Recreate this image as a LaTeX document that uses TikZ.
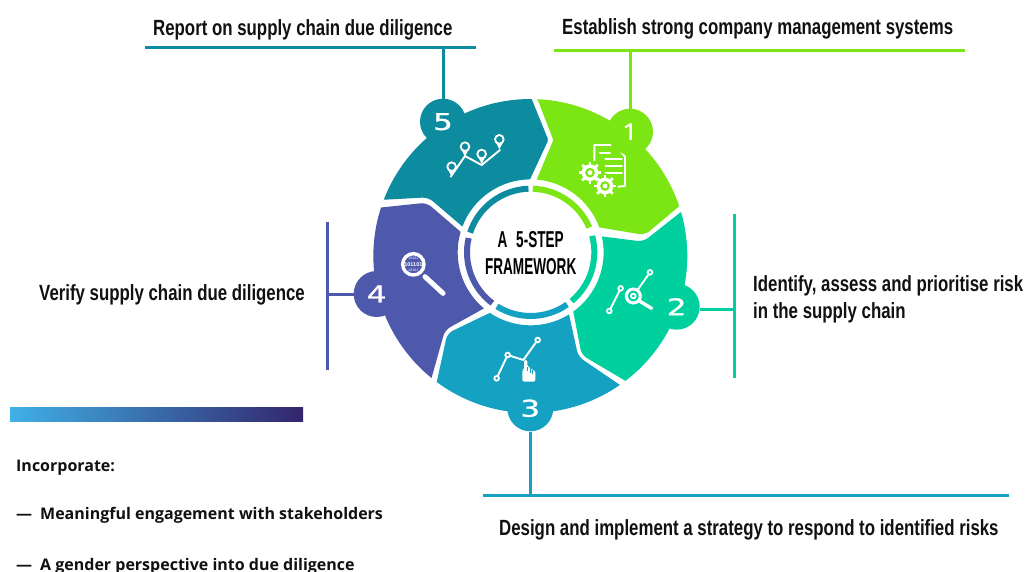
\documentclass[tikz,border=0pt]{standalone}
\usepackage{fontspec}
\setmainfont{Liberation Sans}
\newfontfamily\lblfont[FakeStretch=0.765]{Liberation Sans}
\newfontfamily\hubfont[FakeStretch=0.59]{Liberation Sans}
\newfontfamily\numfont[FakeStretch=1.35,FakeBold=1.2]{DejaVu Sans}
\newfontfamily\onefont[FakeStretch=1.2,FakeBold=1.2]{Open Sans}
\newfontfamily\notefont{Open Sans}
\definecolor{cA}{HTML}{7CE514}
\definecolor{cB}{HTML}{00CF9E}
\definecolor{cC}{HTML}{15A2C2}
\definecolor{cD}{HTML}{4F59AB}
\definecolor{cE}{HTML}{0E8C9F}
\definecolor{cF}{HTML}{3FB0E6}
\definecolor{cG}{HTML}{33256D}
\definecolor{ink}{HTML}{111111}
\usetikzlibrary{calc}
\tikzset{
  bump/.style={circle,fill=#1,inner sep=0pt,minimum size=46pt,text=white,font=\numfont\fontsize{23}{23}\selectfont},
  lead/.style={draw=#1,line width=3pt},
  lbl/.style={text=ink,inner sep=0pt,anchor=base west,font=\lblfont\bfseries\fontsize{22}{27}\selectfont},
  note/.style={text=ink,inner sep=0pt,anchor=base west,font=\notefont\bfseries\fontsize{16}{18}\selectfont},
  band/.style={line width=6pt,draw=#1},
  iconl/.style={draw=white,line width=1.9pt,line cap=round,line join=round},
  ring/.style={draw=white,line width=1.8pt,fill=#1},
}
\newcommand{\gearicon}[3]{%
  \foreach \a in {0,45,...,315}{\draw[white,line width=2.8pt] ([shift={(#1,#2)}]\a:#3*0.6) -- ([shift={(#1,#2)}]\a:#3);}
  \fill[white] (#1,#2) circle[radius=#3*0.76];
  \fill[cA] (#1,#2) circle[radius=#3*0.44];
  \fill[white] (#1,#2) circle[radius=#3*0.22];
}
\begin{document}
\begin{tikzpicture}[x=1pt,y=-1pt]
\useasboundingbox (0,0) rectangle (1029,571);
\clip (0,0) rectangle (1029,571);
\fill[white] (0,0) rectangle (1029,571);

% leader coordinates
\coordinate (e1a) at (554,50); \coordinate (e1b) at (965,50); \coordinate (j1) at (630,50);
\coordinate (e5a) at (145,47); \coordinate (e5b) at (476,47); \coordinate (j5) at (443,47);
\coordinate (e4a) at (327,222); \coordinate (e4b) at (327,370); \coordinate (j4) at (327,294);
\coordinate (e2a) at (734,214); \coordinate (e2b) at (734,378); \coordinate (j2) at (734,309);
\coordinate (e3a) at (483,495); \coordinate (e3b) at (1009,495); \coordinate (j3) at (530.3,495);

% wheel
\begin{scope}[shift={(530.33,256)},x=0.3333pt,y=0.3333pt]
\fill[cA] (87.4:471) arc[start angle=87.4,end angle=18.5,radius=471]
  [rounded corners=6pt] -- (344,63) [sharp corners]
  -- ([shift={(1,11)}]20:219) arc[start angle=20,end angle=85.3,radius=219]
  [rounded corners=1.5pt] -- (69,348) [sharp corners] -- cycle;
\fill[cB] (16.3:471) arc[start angle=16.3,end angle=-52.7,radius=471]
  [rounded corners=6pt] -- (154,-297) [sharp corners]
  -- ([shift={(1,11)}]-54.3:219) arc[start angle=-54.3,end angle=12.6,radius=219]
  [rounded corners=6pt] -- (339,43) [sharp corners] -- cycle;
\fill[cC] (-55.2:471) arc[start angle=-55.2,end angle=-126.6,radius=471]
  [rounded corners=6pt] -- (-249,-232) [sharp corners]
  -- ([shift={(1,11)}]-124:219) arc[start angle=-124,end angle=-58.3,radius=219]
  [rounded corners=6pt] -- (144,-302) [sharp corners] -- cycle;
\fill[cD] (-129:471) arc[start angle=-129,end angle=-198,radius=471]
  [rounded corners=6pt] -- (-311,160) [sharp corners]
  -- ([shift={(1,11)}]163.7:219) arc[start angle=163.7,end angle=230.2,radius=219]
  [rounded corners=6pt] -- (-256,-222) [sharp corners] -- cycle;
\fill[cE] (159:471) arc[start angle=159,end angle=89.5,radius=471]
  [rounded corners=1.5pt] -- (54,348) [sharp corners]
  -- ([shift={(1,11)}]90.5:219) arc[start angle=90.5,end angle=159.3,radius=219]
  [rounded corners=6pt] -- (-306,176) [sharp corners] -- cycle;

% inner bands
\draw[band=cA] ([shift={(1,11)}]88:191) arc[start angle=88,end angle=23,radius=191];
\draw[band=cB] ([shift={(1,11)}]15:191) arc[start angle=15,end angle=-50,radius=191];
\draw[band=cC] ([shift={(1,11)}]-55:191) arc[start angle=-55,end angle=-122,radius=191];
\draw[band=cD] ([shift={(1,11)}]167:191) arc[start angle=167,end angle=233,radius=191];
\draw[band=cE] ([shift={(1,11)}]92:191) arc[start angle=92,end angle=162,radius=191];

% icon 1: document and gears
\draw[iconl] (192,250) -- (192,333) -- (254,333) -- (284,298) -- (284,210) -- (262,208);
\draw[iconl,line width=2pt] (209,308) -- (239,308);
\draw[iconl,line width=2pt] (225,290) -- (275,290);
\draw[iconl,line width=2pt] (225,270) -- (275,270);
\draw[iconl,line width=2pt] (225,248) -- (275,248);
\fill[cA] (179,250) circle[radius=38];
\fill[cA] (224,210) circle[radius=38];
\gearicon{179}{250}{33}
\gearicon{224}{210}{33}

% icon 2: line graph and magnifier
\draw[iconl] (237,-165) -- (271,-97);
\draw[iconl] (309,-120) -- (359,-49);
\draw[white,line width=3.4pt,line cap=round] (327,-135) -- (364,-157);
\filldraw[ring=cB] (237,-165) circle[radius=7];
\filldraw[ring=cB] (271,-97) circle[radius=7];
\filldraw[ring=cB] (359,-49) circle[radius=7];
\draw[white,line width=3pt,fill=cB] (309,-120) circle[radius=21];
\filldraw[ring=cB] (309,-120) circle[radius=7];

% icon 3: line graph and hand
\draw[iconl] (-101,-367) -- (-68,-297) -- (-21,-312) -- (22,-252);
\filldraw[ring=cC] (-101,-367) circle[radius=7];
\filldraw[ring=cC] (-68,-297) circle[radius=7];
\filldraw[ring=cC] (22,-252) circle[radius=7];
\fill[white,rounded corners=2pt] (-24,-377) -- (-24,-342) -- (-19,-342) -- (-19,-312) -- (-9,-312) -- (-9,-332) -- (-3,-332) -- (-3,-338) -- (6,-338) -- (6,-344) -- (15,-344) -- (15,-377) -- cycle;
\draw[cC,line width=0.6pt] (-9,-345) -- (-9,-332);
\draw[cC,line width=0.6pt] (-1,-350) -- (-1,-336);
\draw[cC,line width=0.6pt] (7,-355) -- (7,-342);

% icon 4: magnifier with binary digits
\draw[white,line width=5pt,line cap=round] (-316,-62) -- (-262,-112);
\draw[white,line width=3.4pt,fill=cD] (-351,-25) circle[radius=32];
\node[text=white,inner sep=0pt,font=\bfseries\fontsize{5.5}{5.5}\selectfont] (bin) at (-351,-25) {101101};
\node[text=white,inner sep=0pt,font=\fontsize{3.5}{3.5}\selectfont] (bina) at (-351,-6) {10101};
\node[text=white,inner sep=0pt,font=\fontsize{3.5}{3.5}\selectfont] (binb) at (-351,-44) {10101};

% icon 5: map pins
\draw[iconl] (-239,238) -- (-196,300) -- (-146,273) -- (-91,318);
\foreach \px/\py in {-236/268,-196/328,-146/306,-93/350}{
  \fill[white] (\px-12,\py-6) -- (\px,\py-30) -- (\px+12,\py-6) -- cycle;
  \filldraw[ring=cE] (\px,\py) circle[radius=13];
}
\end{scope}

% centre
\node[circle,fill=white,inner sep=0pt,minimum size=118pt,align=center,text=black,font=\hubfont\bfseries\fontsize{23}{27}\selectfont] (hub) at (530.7,253) {A\hspace{5pt} 5-STEP\hspace{5pt}\\FRAMEWORK};

% leaders
\draw[lead=cA] (e1a) -- (e1b);
\draw[lead=cE] (e5a) -- (e5b);
\draw[lead=cD] (e4a) -- (e4b);
\draw[lead=cB] (e2a) -- (e2b);
\draw[lead=cC] (e3a) -- (e3b);

% numbered bumps
\node[bump=cA] (s1) at (630,131.7) {\onefont 1};
\node[bump=cB] (s2) at (676.7,306.7) {2};
\node[bump=cC] (s3) at (530.3,408.3) {3};
\node[bump=cD] (s4) at (376.7,294) {4};
\node[bump=cE] (s5) at (443,121.7) {5};

\draw[lead=cA] (s1) -- (j1);
\draw[lead=cE] (s5) -- (j5);
\draw[lead=cD] (s4) -- (j4);
\draw[lead=cB] (s2.east |- j2) -- (j2);
\draw[lead=cC] (s3) -- (j3);

% labels
\node[lbl] (l5) at (153,35) {Report on supply chain due diligence};
\node[lbl] (l1) at (562,34) {Establish strong company management systems};
\node[lbl] (l4) at (39,300) {Verify supply chain due diligence};
\node[lbl] (l2a) at (753,291) {Identify, assess and prioritise risk};
\node[lbl] (l2b) at (753,318) {in the supply chain};
\node[lbl] (l3) at (499,535) {Design and implement a strategy to respond to identified risks};

% lower left
\shade[left color=cF,right color=cG] (10,407) rectangle (303,421);
\node[note] (n0) at (16,471) {Incorporate:};
\node[note] (n1) at (16,519) {—\hspace{8pt}Meaningful engagement with stakeholders};
\node[note] (n2) at (16,570) {—\hspace{8pt}A gender perspective into due diligence};
\end{tikzpicture}
\end{document}
